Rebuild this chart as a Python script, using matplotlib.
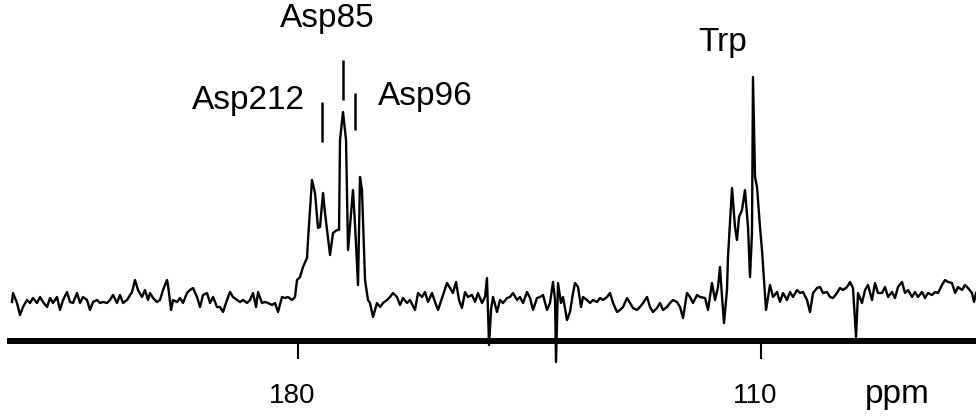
import matplotlib
matplotlib.use("Agg")
from matplotlib import pyplot as plt
from matplotlib.transforms import ScaledTranslation

plt.rcParams['font.family'] = ['Liberation Sans', 'DejaVu Sans']

# chemical shift (ppm) and intensity (arbitrary units, baseline ~ 0)
ppm = [223.25, 223.09, 222.49, 222.04, 221.58, 220.98, 220.52, 220.07, 219.47, 219.01,
       218.56, 217.95, 217.50, 217.05, 216.44, 215.99, 215.53, 214.93, 214.48, 214.02,
       213.42, 212.96, 212.51, 211.91, 211.45, 211.00, 210.39, 209.94, 209.49, 208.88,
       208.43, 207.97, 207.37, 206.92, 206.46, 205.86, 205.10, 204.65, 204.19, 203.59,
       203.14, 202.68, 202.38, 201.93, 201.32, 200.87, 200.41, 199.81, 199.66, 199.20,
       198.90, 198.30, 197.84, 197.39, 196.79, 196.33, 195.88, 195.27, 194.82, 194.37,
       193.76, 193.31, 192.85, 192.25, 191.80, 191.34, 190.74, 190.28, 189.83, 189.23,
       188.77, 188.32, 187.71, 187.26, 186.81, 186.35, 186.05, 185.45, 184.99, 184.54,
       183.93, 183.48, 183.03, 182.42, 181.97, 181.51, 180.91, 180.46, 180.15, 179.70,
       179.25, 178.64, 178.49, 177.89, 177.43, 176.98, 176.68, 176.22, 175.92, 175.16,
       174.71, 174.11, 173.80, 173.65, 173.20, 172.74, 172.44, 171.69, 171.38, 170.93,
       170.63, 170.33, 169.87, 169.42, 169.12, 168.66, 168.06, 167.60, 167.15, 166.55,
       166.09, 165.64, 165.03, 164.58, 164.13, 163.52, 163.07, 162.31, 161.86, 161.25,
       160.80, 160.35, 159.74, 159.29, 158.83, 158.23, 157.47, 157.02, 156.57, 156.11,
       155.66, 155.21, 154.75, 154.30, 153.69, 153.24, 152.79, 152.18, 151.73, 151.43,
       151.12, 150.82, 150.52, 149.91, 149.46, 149.01, 148.40, 147.95, 147.49, 146.89,
       146.44, 145.98, 145.38, 144.92, 144.47, 143.87, 143.41, 142.96, 142.35, 141.90,
       141.45, 141.14, 140.99, 140.69, 140.24, 139.93, 139.33, 138.88, 138.42, 138.12,
       137.67, 137.21, 136.91, 136.31, 135.85, 135.40, 134.79, 134.34, 133.89, 133.28,
       132.83, 132.37, 131.77, 131.32, 130.86, 130.26, 129.80, 129.35, 128.75, 128.29,
       127.84, 127.23, 126.78, 126.33, 125.72, 125.27, 124.81, 124.21, 123.76, 123.30,
       122.70, 122.24, 121.79, 121.19, 120.73, 120.28, 119.67, 119.22, 118.46, 118.01,
       117.41, 116.95, 116.50, 116.20, 115.89, 115.59, 115.14, 114.99, 114.38, 113.93,
       113.63, 113.32, 112.87, 112.42, 111.96, 111.66, 111.36, 111.21, 110.90, 110.60,
       110.15, 109.85, 109.24, 108.64, 108.18, 107.58, 107.12, 106.67, 106.07, 105.61,
       105.16, 104.55, 104.10, 103.65, 103.04, 102.59, 102.13, 101.53, 101.08, 100.62,
       100.02, 99.56, 99.11, 98.51, 98.05, 97.60, 96.99, 96.54, 96.09, 95.63,
       95.33, 94.73, 94.27, 93.82, 93.21, 92.76, 92.31, 91.70, 91.25, 90.79,
       90.19, 89.74, 89.28, 88.68, 88.22, 87.77, 87.17, 86.71, 86.26, 85.65,
       85.20, 84.75, 84.14, 83.69, 83.23, 82.63, 82.18, 81.72, 81.12, 80.66,
       80.21, 79.61, 79.15, 78.70, 78.09, 77.79, 77.49]

intensity = [-2, 7, -3, -15, -7, 0, -3, 2, -3, 3,
             -2, -7, 2, -3, 3, -10, 0, 8, -2, -3,
             7, -3, 3, 0, -10, -2, 0, -3, -2, -3,
             0, 5, -3, 5, -3, 0, 8, 20, 10, 3,
             10, 0, 7, 2, -2, 0, 10, 20, 15, -10,
             0, -2, 2, -3, 7, 10, 12, 3, -7, 5,
             7, -3, 3, -7, -7, -12, 0, 8, 3, 0,
             -2, 0, -3, 0, 7, -7, 8, -3, -2, -3,
             -5, -3, -12, 3, 2, 3, 0, 3, 20, 23,
             33, 42, 60, 120, 107, 72, 73, 107, 87, 45,
             67, 70, 70, 160, 188, 160, 50, 110, 75, 15,
             123, 110, 20, 0, -3, -17, -3, -7, -3, 0,
             3, 7, 3, -5, 2, -3, 0, -10, 7, 3,
             8, -2, 7, -2, -10, 2, 17, 12, 7, 18,
             0, -8, 8, 3, 5, -2, 7, -3, 3, 22,
             -45, -10, 3, -12, 0, -3, 2, 3, 7, 0,
             3, -3, 8, 2, -10, 2, 3, 5, -10, -3,
             18, 0, -62, 17, -3, 3, -20, -12, 7, 17,
             13, -7, 3, 0, -3, 0, -2, 2, 0, 3,
             7, -3, -12, -10, -7, 2, -3, -8, -10, -7,
             -3, 3, -7, -12, -8, -3, -10, -7, -3, 0,
             -2, -7, -18, 7, 3, -3, 5, 3, 2, -10,
             17, 0, 13, 33, 3, -23, 10, 43, 112, 73,
             60, 83, 90, 110, 73, 23, 67, 223, 123, 113,
             73, 50, -10, 15, 3, 8, -2, 7, 0, 8,
             3, 10, 7, 8, 0, -12, 7, 12, 13, 7,
             8, 3, 2, 7, 12, 10, 13, 18, 12, -37,
             7, -3, 10, 15, 0, 17, 7, 7, 13, 3,
             8, 2, 13, 18, 7, 10, 3, 8, 3, 8,
             2, 7, 5, 8, 7, 15, 20, 18, 17, 7,
             13, 10, 15, 12, 7, -2, 7]

# assignments: name, ppm of marker, marker bottom, marker top
peak_names = ['Asp212', 'Asp85', 'Asp96']
peak_ppm = [176.43, 173.20, 171.38]
mark_low = [158, 200, 170]
mark_high = [198, 240, 207]

fig = plt.figure(figsize=(9.76, 4.2), dpi=100)
ax = fig.add_axes([10 / 976, 0, 966 / 976, 1])

ax.plot(ppm, intensity, color='black', lw=1.7, solid_joinstyle='round')
ax.vlines(peak_ppm, mark_low, mark_high, color='black', lw=1.8)

ax.set_xlim(223.55, 77.49)
ax.set_ylim(-120, 300)

for s in ['top', 'left', 'right']:
    ax.spines[s].set_visible(False)
ax.spines['bottom'].set_position(('data', -41))
ax.spines['bottom'].set_linewidth(4.3)
ax.set_yticks([])
ax.set_xticks([180, 110])
ax.set_xticklabels(['180', '110'])
ax.tick_params(axis='x', direction='out', length=13, width=1.5, pad=17, labelsize=20)
# the printed numbers sit a bit left of their ticks
for lab in ax.get_xticklabels():
    lab.set_transform(lab.get_transform() + ScaledTranslation(-0.06, 0, fig.dpi_scale_trans))

# peak labels
ax.text(178.94, 199, peak_names[0], ha='right', va='center', fontsize=24)
ax.text(175.62, 282, peak_names[1], ha='center', va='center', fontsize=24)
ax.text(167.91, 203, peak_names[2], ha='left', va='center', fontsize=24)
ax.text(115.74, 258, 'Trp', ha='center', va='center', fontsize=24)
ax.text(89.43, -95, 'ppm', ha='center', va='center', fontsize=24)

fig.savefig('out.png', dpi=100, facecolor='white')
